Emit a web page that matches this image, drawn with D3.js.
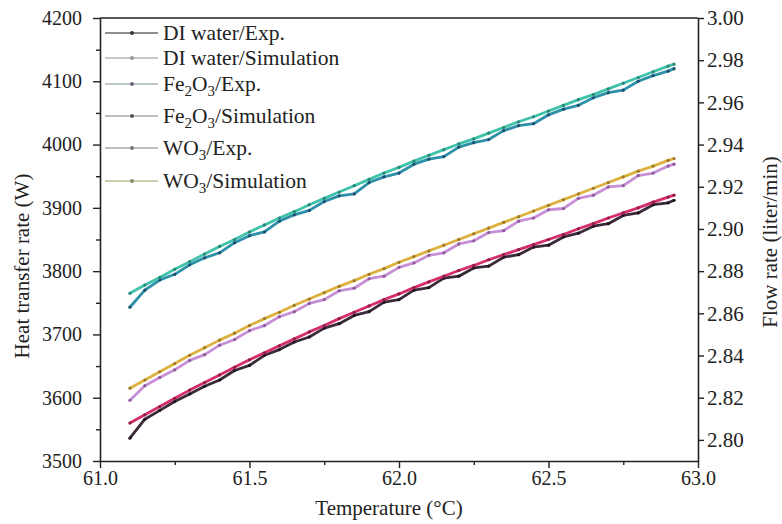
<!DOCTYPE html>
<html>
<head>
<meta charset="utf-8">
<script src="https://cdn.jsdelivr.net/npm/d3@7"></script>
<style>
  html, body { margin: 0; padding: 0; background: #fff; }
  svg { display: block; }
  text { font-family: "Liberation Serif", "Times New Roman", serif; fill: #222; }
</style>
</head>
<body>
<svg id="chart" width="782" height="524"></svg>
<script>
// Temperature readings (°C)
const temperature = [61.10, 61.15, 61.20, 61.25, 61.30, 61.35, 61.40, 61.45, 61.50, 61.55,
  61.60, 61.65, 61.70, 61.75, 61.80, 61.85, 61.90, 61.95, 62.00, 62.05,
  62.10, 62.15, 62.20, 62.25, 62.30, 62.35, 62.40, 62.45, 62.50, 62.55,
  62.60, 62.65, 62.70, 62.75, 62.80, 62.85, 62.90, 62.92];

// Heat transfer rate (W) per fluid
const diWaterExp = [3536, 3566, 3580, 3594, 3606, 3618, 3628, 3643, 3651, 3667,
  3676, 3688, 3696, 3710, 3717, 3730, 3736, 3751, 3755, 3770,
  3774, 3789, 3792, 3805, 3808, 3822, 3826, 3838, 3841, 3854,
  3860, 3871, 3875, 3888, 3892, 3905, 3908, 3912];
const diWaterSim = [3560, 3573, 3586, 3599, 3612, 3624, 3636, 3648, 3660, 3671,
  3682, 3693, 3704, 3714, 3725, 3735, 3745, 3755, 3764, 3774,
  3783, 3792, 3801, 3809, 3818, 3826, 3834, 3842, 3850, 3858,
  3867, 3875, 3884, 3892, 3900, 3909, 3917, 3920];
const fe2o3Exp = [3743, 3770, 3786, 3795, 3810, 3821, 3829, 3845, 3856, 3862,
  3879, 3889, 3896, 3910, 3919, 3922, 3940, 3949, 3955, 3969,
  3977, 3981, 3996, 4003, 4008, 4022, 4030, 4033, 4047, 4056,
  4062, 4074, 4082, 4086, 4100, 4109, 4116, 4120];
const fe2o3Sim = [3765, 3778, 3790, 3803, 3815, 3827, 3839, 3850, 3862, 3873,
  3884, 3894, 3905, 3915, 3925, 3935, 3945, 3955, 3964, 3974,
  3983, 3992, 4001, 4009, 4018, 4027, 4036, 4044, 4053, 4062,
  4071, 4079, 4088, 4097, 4106, 4115, 4124, 4127];
const wo3Exp = [3596, 3619, 3632, 3644, 3659, 3668, 3683, 3692, 3706, 3714,
  3728, 3736, 3749, 3755, 3769, 3773, 3788, 3792, 3806, 3813,
  3825, 3829, 3843, 3848, 3861, 3864, 3879, 3884, 3897, 3899,
  3915, 3920, 3933, 3935, 3951, 3955, 3966, 3969];
const wo3Sim = [3615, 3628, 3641, 3654, 3667, 3679, 3691, 3702, 3714, 3725,
  3735, 3746, 3756, 3766, 3776, 3785, 3795, 3804, 3814, 3823,
  3832, 3841, 3850, 3859, 3868, 3877, 3886, 3895, 3904, 3913,
  3922, 3931, 3940, 3949, 3958, 3966, 3975, 3978];

const seriesNames = ["DI water/Exp.", "DI water/Simulation", "Fe2O3/Exp.",
  "Fe2O3/Simulation", "WO3/Exp.", "WO3/Simulation"];
const seriesValues = [diWaterExp, diWaterSim, fe2o3Exp, fe2o3Sim, wo3Exp, wo3Sim];

// Axis ticks
const xTicks = [61.0, 61.5, 62.0, 62.5, 63.0];
const xMinorTicks = [61.25, 61.75, 62.25, 62.75];
const yLeftTicks = [3500, 3600, 3700, 3800, 3900, 4000, 4100, 4200];
const yLeftMinorTicks = [3550, 3650, 3750, 3850, 3950, 4050, 4150];
const yRightTicks = [2.80, 2.82, 2.84, 2.86, 2.88, 2.90, 2.92, 2.94, 2.96, 2.98, 3.00];

// Styling
const lineColors = ["#3b2a3a", "#d52e6c", "#2d8fa8", "#40c2aa", "#c78fd6", "#dcb13f"];
const markerColors = ["#1e1420", "#8e1c48", "#1d4e72", "#2a8678", "#8d5a9c", "#9c7a2a"];
const legendLineColors = ["#6a6a6a", "#b4b4b4", "#a9b4b4", "#a8acac", "#aaaaaa", "#bdbf98"];
const legendMarkerColors = ["#333", "#999", "#667", "#555", "#777", "#8a8a66"];

const svg = d3.select("#chart");
const plotLeft = 100, plotRight = 698, plotTop = 18, plotBottom = 461;

const x = d3.scaleLinear().domain([61, 63]).range([plotLeft, plotRight]);
const yL = d3.scaleLinear().domain([3500, 4200]).range([plotBottom, plotTop]);
const yR = d3.scaleLinear().domain([2.79, 3.00]).range([plotBottom, plotTop]);

// Data lines
const line = d3.line()
  .x((d, i) => x(temperature[i]))
  .y(d => yL(d));

const plot = svg.append("g");
seriesValues.forEach((vals, k) => {
  plot.append("path")
    .datum(vals)
    .attr("d", line)
    .attr("fill", "none")
    .attr("stroke", lineColors[k])
    .attr("stroke-width", 2.8)
    .attr("stroke-linejoin", "round");
  plot.selectAll(null)
    .data(vals)
    .enter().append("circle")
    .attr("cx", (d, i) => x(temperature[i]))
    .attr("cy", d => yL(d))
    .attr("r", 1.6)
    .attr("fill", markerColors[k]);
});

// Axes
function styleAxis(g, size) {
  g.select(".domain").attr("stroke", "#222").attr("stroke-width", 1.6);
  g.selectAll(".tick line").attr("stroke", "#222").attr("stroke-width", 1.4);
  g.selectAll("text")
    .attr("font-size", size)
    .attr("font-family", "Liberation Serif, Times New Roman, serif")
    .attr("fill", "#222");
}
function styleMinor(g) {
  g.select(".domain").remove();
  g.selectAll(".tick line").attr("stroke", "#222").attr("stroke-width", 1.4);
}

// bottom
svg.append("g")
  .attr("transform", `translate(0,${plotBottom})`)
  .call(d3.axisBottom(x).tickValues(xMinorTicks).tickSize(4).tickFormat(""))
  .call(styleMinor);
svg.append("g")
  .attr("transform", `translate(0,${plotBottom})`)
  .call(d3.axisBottom(x).tickValues(xTicks).tickSize(7).tickSizeOuter(0).tickPadding(3).tickFormat(d3.format(".1f")))
  .call(g => styleAxis(g, 20));

// left
svg.append("g")
  .attr("transform", `translate(${plotLeft},0)`)
  .call(d3.axisLeft(yL).tickValues(yLeftMinorTicks).tickSize(4).tickFormat(""))
  .call(styleMinor);
svg.append("g")
  .attr("transform", `translate(${plotLeft},0)`)
  .call(d3.axisLeft(yL).tickValues(yLeftTicks).tickSize(7).tickSizeOuter(0).tickPadding(11).tickFormat(d3.format("d")))
  .call(g => styleAxis(g, 20));

// right
svg.append("g")
  .attr("transform", `translate(${plotRight},0)`)
  .call(d3.axisRight(yR).tickValues(yRightTicks).tickSize(6).tickSizeOuter(0).tickPadding(3).tickFormat(d3.format(".2f")))
  .call(g => styleAxis(g, 21));

// top border
svg.append("line")
  .attr("x1", plotLeft).attr("x2", plotRight)
  .attr("y1", plotTop).attr("y2", plotTop)
  .attr("stroke", "#222").attr("stroke-width", 1.6);

// Axis titles
svg.append("text")
  .attr("x", (plotLeft + plotRight) / 2 - 10)
  .attr("y", 515)
  .attr("text-anchor", "middle")
  .attr("font-size", 21)
  .text("Temperature (°C)");

svg.append("text")
  .attr("transform", "translate(29,266) rotate(-90)")
  .attr("text-anchor", "middle")
  .attr("font-size", 21)
  .text("Heat transfer rate (W)");

svg.append("text")
  .attr("transform", "translate(777,242) rotate(-90)")
  .attr("text-anchor", "middle")
  .attr("font-size", 21)
  .text("Flow rate (liter/min)");

// Legend
const legendRows = [33, 58, 84, 116, 148, 181];
const legend = svg.append("g");
seriesNames.forEach((name, k) => {
  const yy = legendRows[k];
  legend.append("line")
    .attr("x1", 105).attr("x2", 158)
    .attr("y1", yy).attr("y2", yy)
    .attr("stroke", legendLineColors[k])
    .attr("stroke-width", 1.6);
  legend.append("circle")
    .attr("cx", 132).attr("cy", yy).attr("r", 2)
    .attr("fill", legendMarkerColors[k]);
  const t = legend.append("text")
    .attr("x", 163)
    .attr("y", yy + 7)
    .attr("font-size", 21.5);
  // chemical formulas get subscripted digits
  const m = name.match(/^([A-Za-z]+)(\d)([A-Za-z]+)(\d)(\/.*)$/);
  if (m) {
    t.append("tspan").text(m[1]);
    t.append("tspan").attr("dy", 5).attr("font-size", 15).text(m[2]);
    t.append("tspan").attr("dy", -5).text(m[3]);
    t.append("tspan").attr("dy", 5).attr("font-size", 15).text(m[4]);
    t.append("tspan").attr("dy", -5).text(m[5]);
  } else {
    const m2 = name.match(/^([A-Za-z]+)(\d)(\/.*)$/);
    if (m2) {
      t.append("tspan").text(m2[1]);
      t.append("tspan").attr("dy", 5).attr("font-size", 15).text(m2[2]);
      t.append("tspan").attr("dy", -5).text(m2[3]);
    } else {
      t.text(name);
    }
  }
});
</script>
</body>
</html>
